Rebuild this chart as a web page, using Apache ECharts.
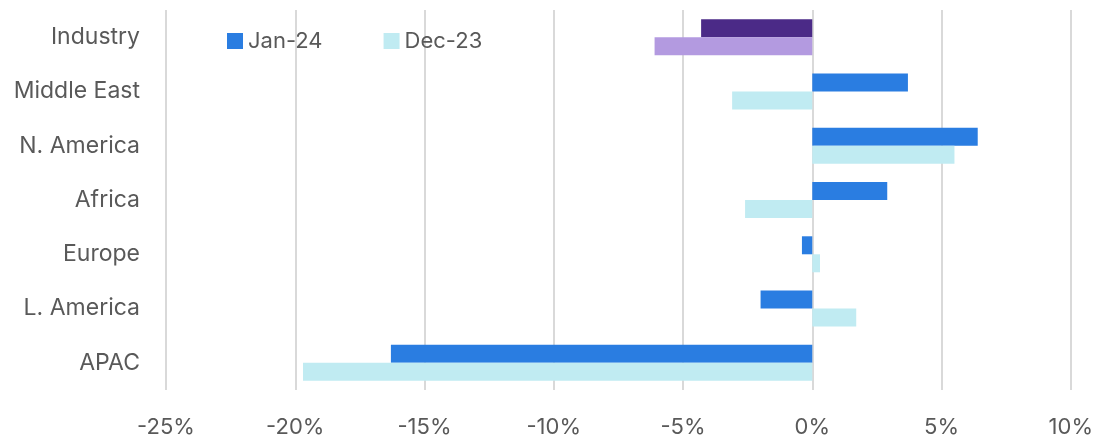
<!DOCTYPE html>
<html><head><meta charset="utf-8">
<script src="https://cdn.jsdelivr.net/npm/echarts@6/dist/echarts.min.js"></script>
<style>html,body{margin:0;padding:0;background:#fff}#c{width:1096px;height:441px}</style>
</head><body><div id="c"></div>
<script>
const categories = ['Industry','Middle East','N. America','Africa','Europe','L. America','APAC'];
const jan24 = [-4.3, 3.7, 6.4, 2.9, -0.4, -2.0, -16.3];
const dec23 = [-6.1, -3.1, 5.5, -2.6, 0.3, 1.7, -19.7];
const xTicks = [-25,-20,-15,-10,-5,0,5,10];

const janColor = '#2a7de1', decColor = '#c0ebf2';
const indJan = '#4b2a87', indDec = '#b39ae0';
const font = 'Inter, "Noto Sans", sans-serif';

const chart = echarts.init(document.getElementById('c'));
chart.setOption({
  animation:false,
  grid:{left:166,right:23,top:10,bottom:51},
  legend:{left:222,top:25,itemWidth:16,itemHeight:16,itemGap:61,
    icon:'rect',
    textStyle:{fontFamily:font,fontSize:22,color:'#595959'},
    data:['Jan-24','Dec-23']},
  xAxis:{type:'value',min:xTicks[0],max:xTicks[xTicks.length-1],interval:5,
    axisLine:{show:false},axisTick:{show:false},
    splitLine:{lineStyle:{color:'#d9d9d9',width:2}},
    axisLabel:{formatter:v=>v+'%',fontFamily:font,fontSize:22,color:'#595959',margin:26}},
  yAxis:{type:'category',data:categories,inverse:true,
    axisLine:{show:false},axisTick:{show:false},
    axisLabel:{fontFamily:font,fontSize:23,color:'#595959',margin:26}},
  series:[
    {name:'Jan-24',type:'bar',barWidth:18,barGap:'0%',itemStyle:{color:janColor},
     data:jan24.map((v,i)=>i===0?{value:v,itemStyle:{color:indJan}}:v)},
    {name:'Dec-23',type:'bar',barWidth:18,barGap:'0%',itemStyle:{color:decColor},
     data:dec23.map((v,i)=>i===0?{value:v,itemStyle:{color:indDec}}:v)}
  ]
});
</script></body></html>
